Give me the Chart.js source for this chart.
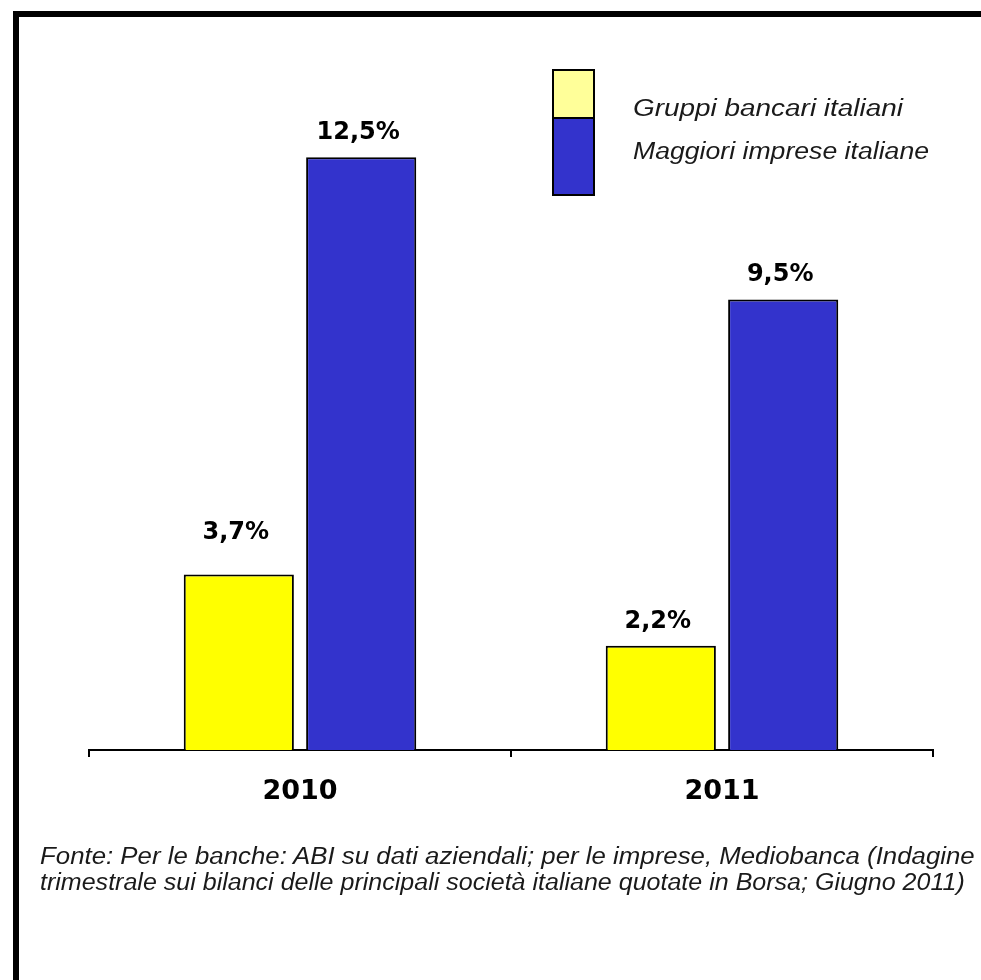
<!DOCTYPE html>
<html>
<head>
<meta charset="utf-8">
<script src="https://cdn.jsdelivr.net/npm/chart.js@4"></script>
<style>
  html, body { margin: 0; padding: 0; background: #fff; }
  #wrap { position: relative; width: 981px; height: 980px; overflow: hidden; }
  #frame {
    position: absolute; left: 13px; top: 11px; width: 1000px; height: 1000px;
    border-top: 6px solid #000; border-left: 6px solid #000; box-sizing: border-box;
  }
  canvas { position: absolute; left: 0; top: 0; }
  .fonte {
    position: absolute; left: 40px; font: italic 23px "Liberation Sans", Arial, sans-serif;
    color: #1a1a1a; white-space: nowrap; transform-origin: 0 0;
  }
</style>
</head>
<body>
<div id="wrap">
  <div id="frame"></div>
  <canvas id="chart" width="981" height="980"></canvas>
  <div class="fonte" id="fonte1" style="top:843px">Fonte: Per le banche: ABI su dati aziendali; per le imprese, Mediobanca (Indagine</div>
  <div class="fonte" id="fonte2" style="top:869px">trimestrale sui bilanci delle principali società italiane quotate in Borsa; Giugno 2011)</div>
</div>
<script>
// anni sull'asse x
const anni = ['2010', '2011'];

// serie (valori in %)
const nomiSerie = ['Gruppi bancari italiani', 'Maggiori imprese italiane'];
const gruppiBancari = [3.7, 2.2];
const maggioriImprese = [12.5, 9.5];

const COLORI = ['#ffff00', '#3333cc'];
const COLORI_LEGENDA = ['#ffff99', '#3333cc'];

const fmt = v => v.toFixed(1).replace('.', ',') + '%';

// etichette sopra le barre
const etichettePlugin = {
  id: 'etichette',
  afterDatasetsDraw(chart) {
    const ctx = chart.ctx;
    ctx.save();
    ctx.font = 'bold 24px "DejaVu Sans", sans-serif';
    ctx.fillStyle = '#000';
    ctx.textAlign = 'center';
    ctx.textBaseline = 'alphabetic';
    chart.data.datasets.forEach((ds, i) => {
      chart.getDatasetMeta(i).data.forEach((bar, j) => {
        const extra = (i === 0 && j === 0) ? 18 : 0;
        ctx.fillText(fmt(ds.data[j]), bar.x - 3, bar.y - 18 - extra);
      });
    });
    ctx.restore();
  }
};

// legenda a blocchi sovrapposti
const legendaPlugin = {
  id: 'legendaBlocchi',
  afterDraw(chart) {
    const ctx = chart.ctx;
    const boxes = [[553, 70, 41, 48], [553, 118, 41, 77]];
    const testiY = [116, 159];
    const larghezze = [270, 296];
    ctx.save();
    chart.data.datasets.forEach((ds, i) => {
      const b = boxes[i];
      ctx.fillStyle = COLORI_LEGENDA[i];
      ctx.fillRect(b[0], b[1], b[2], b[3]);
      ctx.strokeStyle = '#000';
      ctx.lineWidth = 2;
      ctx.strokeRect(b[0], b[1], b[2], b[3]);
      ctx.fillStyle = '#1a1a1a';
      ctx.font = 'italic 23px "Liberation Sans", Arial, sans-serif';
      ctx.textAlign = 'left';
      const w = ctx.measureText(ds.label).width;
      ctx.save();
      ctx.translate(633, testiY[i]);
      ctx.scale(larghezze[i] / w, 1);
      ctx.fillText(ds.label, 0, 0);
      ctx.restore();
    });
    ctx.restore();
  }
};

new Chart(document.getElementById('chart'), {
  type: 'bar',
  data: {
    labels: anni,
    datasets: [
      { label: nomiSerie[0], data: gruppiBancari, backgroundColor: COLORI[0], borderColor: '#000', borderWidth: 2 },
      { label: nomiSerie[1], data: maggioriImprese, backgroundColor: COLORI[1], borderColor: '#000', borderWidth: 2 },
    ],
  },
  options: {
    responsive: false,
    animation: false,
    categoryPercentage: 0.58,
    barPercentage: 0.9,
    layout: { padding: { left: 89, right: 48, top: 86, bottom: 170 } },
    plugins: { legend: { display: false }, tooltip: { enabled: false } },
    scales: {
      x: {
        afterFit: s => { s.height = 60; },
        grid: { drawOnChartArea: false, color: '#000', tickLength: 7, lineWidth: 2 },
        border: { color: '#000', width: 2 },
        ticks: { color: '#000', padding: 19, font: { family: '"DejaVu Sans", sans-serif', weight: 'bold', size: 27 } },
      },
      y: { display: false, min: 0, max: 14 },
    },
  },
  plugins: [etichettePlugin, legendaPlugin],
});

// adatta la fonte alla larghezza del riquadro
[['fonte1', 935], ['fonte2', 925]].forEach(([id, w]) => {
  const el = document.getElementById(id);
  el.style.transform = `scaleX(${w / el.offsetWidth})`;
});
</script>
</body>
</html>
